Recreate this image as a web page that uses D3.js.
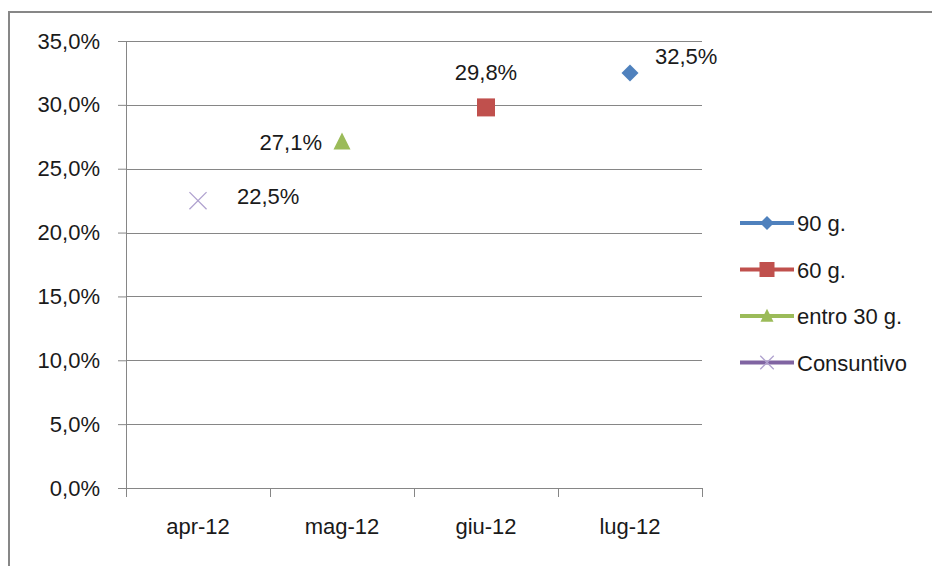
<!DOCTYPE html>
<html>
<head>
<meta charset="utf-8">
<script src="https://cdn.jsdelivr.net/npm/d3@7"></script>
<style>
  body { margin: 0; background: #fff; }
  svg { display: block; font-family: "Liberation Sans", Arial, sans-serif; }
</style>
</head>
<body>
<script>
var categories = ["apr-12", "mag-12", "giu-12", "lug-12"];
var seriesNames = ["90 g.", "60 g.", "entro 30 g.", "Consuntivo"];
var seriesColors = ["#4f81bd", "#c0504d", "#9bbb59", "#8064a2"];
var seriesValues = [
  [null, null, null, 32.5],
  [null, null, 29.8, null],
  [null, 27.1, null, null],
  [22.5, null, null, null]
];
var labelPos = ["topright", "top", "left", "right"];
var yTicks = [0, 5, 10, 15, 20, 25, 30, 35];

var W = 932, H = 566;
var margin = {top: 41, left: 126},
    width = 576,
    height = 447;
var fs = 22;

var svg = d3.select("body").append("svg")
    .attr("width", W)
    .attr("height", H);

svg.append("rect")
    .attr("x", 9).attr("y", 12)
    .attr("width", W).attr("height", H)
    .attr("fill", "#fff")
    .attr("stroke", "#878787")
    .attr("stroke-width", 2);

var g = svg.append("g")
    .attr("transform", "translate(" + margin.left + "," + margin.top + ")");

var x = d3.scaleBand()
    .domain(categories)
    .range([0, width]);

var y = d3.scaleLinear()
    .domain([0, 35])
    .range([height, 0]);

var fmt = function(d) { return d.toFixed(1).replace(".", ",") + "%"; };

// gridlines
g.selectAll(".grid")
    .data(yTicks)
    .enter().append("line")
    .attr("x1", 0).attr("x2", width)
    .attr("y1", function(d) { return Math.round(y(d)) + 0.5; })
    .attr("y2", function(d) { return Math.round(y(d)) + 0.5; })
    .attr("stroke", "#868686");

var yAxis = g.append("g")
    .call(d3.axisLeft(y).tickValues(yTicks).tickSize(8).tickPadding(18).tickFormat(fmt));
yAxis.select(".domain").attr("stroke", "#868686");
yAxis.selectAll(".tick line").attr("stroke", "#868686");
yAxis.selectAll("text").attr("font-size", fs).attr("fill", "#1a1a1a");

// x axis with ticks between categories
var xAxis = g.append("g")
    .attr("transform", "translate(0," + height + ")")
    .call(d3.axisBottom(x).tickSize(0).tickPadding(30));
xAxis.select(".domain").attr("stroke", "#868686");
xAxis.selectAll("text").attr("font-size", fs).attr("fill", "#1a1a1a");
var edges = categories.map(function(c) { return x(c); }).concat([width]);
xAxis.selectAll(".edge")
    .data(edges)
    .enter().append("line")
    .attr("x1", function(d) { return Math.round(d) + 0.5; })
    .attr("x2", function(d) { return Math.round(d) + 0.5; })
    .attr("y1", 0).attr("y2", 9)
    .attr("stroke", "#868686");

function marker(sel, i, cx, cy, s) {
  var c = seriesColors[i];
  if (i === 0) {
    sel.append("path").attr("d", "M" + cx + "," + (cy - s * 0.5) + "L" + (cx + s * 0.5) + "," + cy +
      "L" + cx + "," + (cy + s * 0.5) + "L" + (cx - s * 0.5) + "," + cy + "Z").attr("fill", c);
  } else if (i === 1) {
    sel.append("rect").attr("x", cx - s * 0.5).attr("y", cy - s * 0.5)
      .attr("width", s).attr("height", s).attr("fill", c);
  } else if (i === 2) {
    sel.append("path").attr("d", "M" + cx + "," + (cy - s * 0.55) + "L" + (cx + s * 0.5) + "," + (cy + s * 0.45) +
      "L" + (cx - s * 0.5) + "," + (cy + s * 0.45) + "Z").attr("fill", c);
  } else {
    var h = s * 0.45;
    sel.append("path").attr("d", "M" + (cx - h) + "," + (cy - h) + "L" + (cx + h) + "," + (cy + h) +
      "M" + (cx + h) + "," + (cy - h) + "L" + (cx - h) + "," + (cy + h))
      .attr("stroke", "#b0a2cf").attr("stroke-width", 1.3).attr("fill", "none");
  }
}

var sizes = [17, 18, 17, 19];

seriesValues.forEach(function(vals, i) {
  vals.forEach(function(v, j) {
    if (v === null) return;
    var cx = x(categories[j]) + x.bandwidth() / 2, cy = y(v);
    marker(g, i, cx, cy, sizes[i]);
    var t = g.append("text").attr("font-size", fs).attr("fill", "#1a1a1a").text(fmt(v));
    if (labelPos[i] === "topright") {
      t.attr("x", cx + 25).attr("y", cy - 9);
    } else if (labelPos[i] === "top") {
      t.attr("x", cx).attr("y", cy - 27).attr("text-anchor", "middle");
    } else if (labelPos[i] === "left") {
      t.attr("x", cx - 20).attr("y", cy + 8).attr("text-anchor", "end");
    } else {
      t.attr("x", cx + 39).attr("y", cy + 3);
    }
  });
});

// legend
var legend = svg.append("g").attr("transform", "translate(740,223)");
seriesNames.forEach(function(name, i) {
  var row = legend.append("g").attr("transform", "translate(0," + (i * 46.5) + ")");
  row.append("line").attr("x1", 0).attr("x2", 54).attr("y1", 0).attr("y2", 0)
    .attr("stroke", seriesColors[i]).attr("stroke-width", 4);
  marker(row, i, 27, 0, [14, 15, 13, 15][i]);
  row.append("text").attr("x", 57).attr("y", 8).attr("font-size", fs).attr("fill", "#1a1a1a").text(name);
});
</script>
</body>
</html>
